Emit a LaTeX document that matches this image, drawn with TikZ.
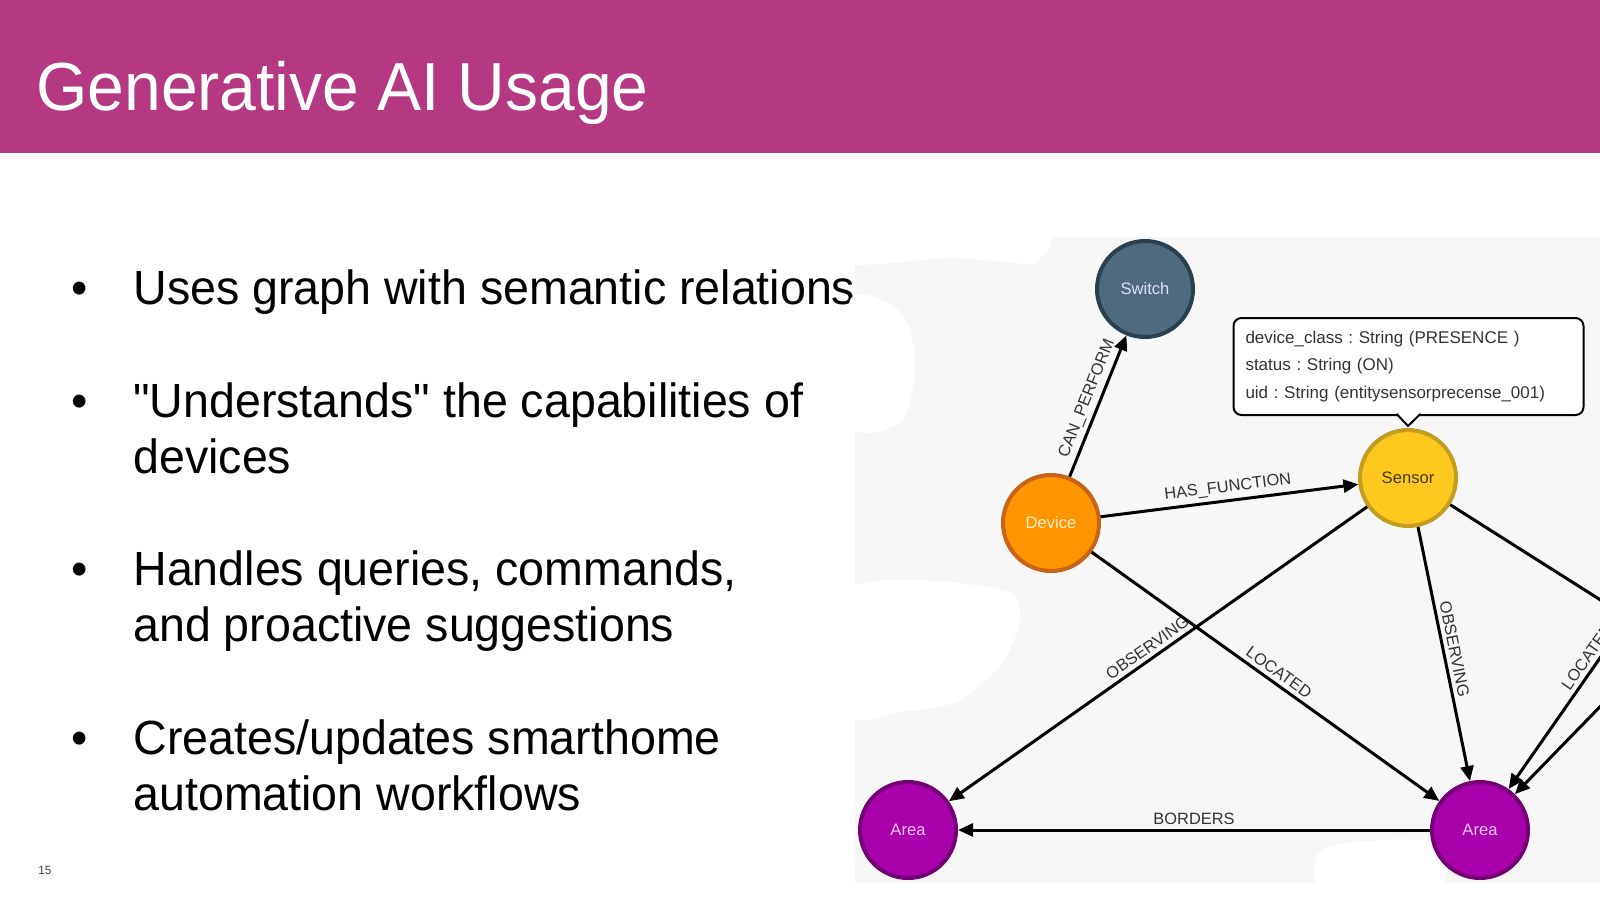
\documentclass[tikz,border=0pt]{standalone}
\usepackage{fontspec}
\setmainfont{Liberation Sans}[FakeStretch=0.97, Ligatures=TeXOff]
\newfontfamily\graphfont{Liberation Sans}
\usepackage{xcolor}
\usetikzlibrary{arrows.meta,positioning,calc}
\definecolor{slidepink}{RGB}{181,57,130}
\definecolor{graphbg}{RGB}{247,247,247}
\definecolor{switchgray}{RGB}{78,106,126}
\definecolor{switchedge}{RGB}{40,64,80}
\definecolor{switchtext}{RGB}{215,228,238}
\definecolor{deviceorange}{RGB}{255,149,0}
\definecolor{deviceedge}{RGB}{200,100,24}
\definecolor{devicetext}{RGB}{255,238,200}
\definecolor{sensoryellow}{RGB}{255,200,30}
\definecolor{sensoredge}{RGB}{196,156,32}
\definecolor{sensortext}{RGB}{70,56,20}
\definecolor{areapurple}{RGB}{168,0,170}
\definecolor{areaedge}{RGB}{116,0,118}
\definecolor{areatext}{RGB}{255,195,255}
\definecolor{labelgray}{RGB}{50,50,50}

\tikzset{
  graphnode/.style={circle, minimum size=48pt, inner sep=0pt, line width=2pt,
    font=\graphfont\fontsize{8.3}{10}\selectfont},
  rel/.style={line width=1.5pt, -{Triangle[length=7.5pt,width=6.5pt]}},
  rellabel/.style={sloped, inner sep=2pt, text=labelgray,
    font=\graphfont\fontsize{8.2}{10}\selectfont},
  bulletline/.style={anchor=base west, align=left, inner sep=0pt,
    font=\fontsize{24}{28}\selectfont},
  bulletdot/.style={anchor=base west, inner sep=0pt, font=\fontsize{24}{28}\selectfont},
  tipbox/.style={draw, line width=1pt, fill=white, rounded corners=4pt, align=left,
    text width=163pt, inner xsep=6pt, minimum height=48.5pt, text=black!80,
    font=\graphfont\fontsize{8.5}{13.75}\selectfont\frenchspacing},
}

\begin{document}
\begin{tikzpicture}[x=0.5pt, y=-0.5pt]
  \useasboundingbox (0,0) rectangle (1600,900);
  \clip (0,0) rectangle (1600,900);

  % Title band
  \fill[slidepink] (0,0) rectangle (1600,153);
  \node[anchor=base west, inner sep=0pt, text=white, font=\fontsize{34}{40}\selectfont]
    (title) at (36,110) {Generative AI Usage};

  % Bullet points (multi-line nodes sit on their last baseline)
  \node[bulletdot] (dot1) at (71,304) {\textbullet};
  \node[bulletline] (item1) at (133,304) {Uses graph with semantic relations};
  \node[bulletdot] (dot2) at (71,417) {\textbullet};
  \node[bulletline] (item2) at (133,473) {"Understands" the capabilities of\\devices};
  \node[bulletdot] (dot3) at (71,585) {\textbullet};
  \node[bulletline] (item3) at (133,641) {Handles queries, commands,\\and proactive suggestions};
  \node[bulletdot] (dot4) at (71,754) {\textbullet};
  \node[bulletline] (item4) at (133,810) {Creates/updates smarthome\\automation workflows};

  % Page number
  \node[anchor=base west, inner sep=0pt, text=black!75, font=\fontsize{6}{7}\selectfont]
    (pagenum) at (38,874) {15};

  % Graph screenshot background
  \fill[graphbg] (855,237) rectangle (1600,883);
  \fill[white] plot[smooth cycle] coordinates {(850,232) (1040,232) (1036,262) (1005,262) (950,258) (880,264) (850,262)};
  \fill[white] plot[smooth cycle] coordinates {(850,300) (900,312) (915,360) (902,420) (850,425)};
  \fill[white] plot[smooth cycle] coordinates {(850,588) (1008,592) (1010,650) (960,700) (900,712) (850,712)};
  \fill[white] plot[smooth cycle] coordinates {(1325,848) (1430,842) (1436,890) (1325,890)};

  % Graph nodes
  \node[graphnode, fill=switchgray, draw=switchedge, text=switchtext] (switch) at (1145,289) {Switch};
  \node[graphnode, fill=deviceorange, draw=deviceedge, text=devicetext] (device) at (1051,523) {Device};
  \node[graphnode, fill=sensoryellow, draw=sensoredge, text=sensortext] (sensor) at (1408,478) {Sensor};
  \node[graphnode, fill=areapurple, draw=areaedge, text=areatext] (areaL) at (908,830) {Area};
  \node[graphnode, fill=areapurple, draw=areaedge, text=areatext] (areaR) at (1480,830) {Area};

  % Nodes outside the frame
  \coordinate (offA) at (1700,663);
  \coordinate (offB) at (1660,572);
  \coordinate (offC) at (1660,645);

  % Relations
  \draw[rel] (device) -- node[rellabel, above, pos=0.52] {CAN\_PERFORM} (switch);
  \draw[rel] (device) -- node[rellabel, above, pos=0.5] {HAS\_FUNCTION} (sensor);
  \draw[rel] (sensor) -- node[rellabel, above, pos=0.51] {OBSERVING} (areaL);
  \draw[rel] (device) -- node[rellabel, above, pos=0.52] {LOCATED} (areaR);
  \draw[rel] (sensor) -- node[rellabel, above, pos=0.49] {OBSERVING} (areaR);
  \draw[rel] (areaR) -- node[rellabel, above, pos=0.5] {BORDERS} (areaL);
  \draw[rel] (sensor) -- (offA);
  \draw[rel] (offB) -- node[rellabel, above, pos=0.42] {LOCATED} (areaR);
  \draw[rel] (offC) -- (areaR);

  % Property tooltip of the sensor
  \node[tipbox] (tip) at (1408.5,366.5)
    {device\_class : String (PRESENCE )\\status : String (ON)\\uid : String (entitysensorprecense\_001)};
  \coordinate (tipend) at (1408,426);
  \filldraw[fill=white, line width=1pt] ([xshift=-6pt,yshift=1.1pt]tip.south) -- (tipend)
    -- ([xshift=6pt,yshift=1.1pt]tip.south);
\end{tikzpicture}
\end{document}
